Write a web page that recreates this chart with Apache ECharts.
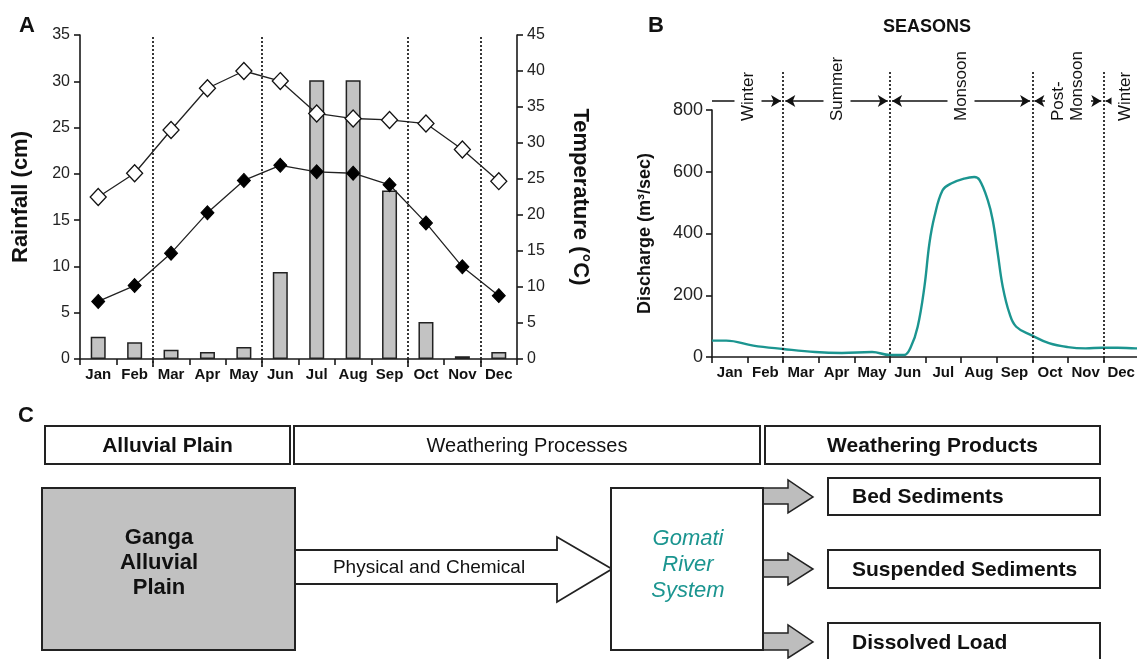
<!DOCTYPE html>
<html><head><meta charset="utf-8">
<script src="https://cdn.jsdelivr.net/npm/echarts@6/dist/echarts.min.js"></script>
<style>html,body{margin:0;padding:0;background:#fff}#c{width:1137px;height:659px}</style>
</head><body><div id="c"></div>
<script>
// ---------- data ----------
const months = ['Jan','Feb','Mar','Apr','May','Jun','Jul','Aug','Sep','Oct','Nov','Dec'];
const rainfall = [2.4, 1.8, 1.0, 0.75, 1.3, 9.4, 30.1, 30.1, 18.2, 4.0, 0.3, 0.75];
const tempMax = [22.5, 25.8, 31.8, 37.6, 40.0, 38.6, 34.1, 33.4, 33.2, 32.7, 29.1, 24.7];
const tempMin = [8.0, 10.2, 14.7, 20.3, 24.8, 26.9, 26.0, 25.8, 24.2, 18.9, 12.8, 8.8];
const seasonBoundaries = [2, 5, 9, 11];
const dischargeMonth = [0, 0.4, 1.16, 2.0, 2.9, 3.65, 4.5, 5.0, 5.4, 5.59, 5.78, 5.97, 6.11, 6.25, 6.48, 6.72, 7.09, 7.37, 7.52, 7.75, 7.89, 8.03, 8.17, 8.36, 8.55, 8.97, 9.47, 10.0, 10.5, 10.97, 11.4, 11.9, 12];
const dischargeValue = [53, 53, 37, 26, 16, 13, 16, 6.5, 6.5, 33, 98, 228, 368, 454, 540, 562, 578, 583, 573, 508, 443, 336, 228, 141, 98, 71, 45, 32, 28, 30, 30, 28, 28];
const seasonNames = ['Winter', 'Summer', 'Monsoon', 'Post-\nMonsoon', 'Winter'];
const seasonFrom = [0, 2, 5, 9, 11];
const seasonTo = [2, 5, 9, 11, 12];
const rainTicks = {min: 0, max: 35, interval: 5};
const tempTicks = {min: 0, max: 45, interval: 5};
const dischargeTicks = {min: 0, max: 800, interval: 200};
const flowHeaders = ['Alluvial Plain', 'Weathering Processes', 'Weathering Products'];
const sourceLabel = 'Ganga\nAlluvial\nPlain';
const processLabel = 'Physical and Chemical';
const systemLabel = 'Gomati\nRiver\nSystem';
const productLabels = ['Bed Sediments', 'Suspended Sediments', 'Dissolved Load'];

// ---------- styles ----------
const FONT = "'Liberation Sans', Arial, Helvetica, sans-serif";
const INK = '#1a1a1a';
const TEAL = '#1b9590';

const chart = echarts.init(document.getElementById('c'), null, {renderer: 'canvas'});

function axisBase(extra) {
  return Object.assign({
    axisLine: {show: true, lineStyle: {color: INK, width: 1.6}},
    axisTick: {show: true, length: 6, lineStyle: {color: INK, width: 1.6}},
    splitLine: {show: false}
  }, extra);
}
const hiddenX = (gi) => ({type: 'value', gridIndex: gi, min: 0, max: 12, show: false});

// ---------- panel C diagram ----------
const g = [];
function txt(x, y, text, o) {
  g.push({type: 'text', x: x, y: y, z: 10, style: Object.assign({
    text: text, fontFamily: FONT, fontSize: 20, fill: '#111', align: 'center', verticalAlign: 'middle'
  }, o || {})});
}
function rect(x, y, w, h, fill) {
  g.push({type: 'rect', z: 5, shape: {x: x, y: y, width: w, height: h},
    style: {fill: fill, stroke: '#222', lineWidth: 2}});
}
function poly(pts, fill, lw) {
  g.push({type: 'polygon', z: 4, shape: {points: pts}, style: {fill: fill, stroke: '#222', lineWidth: lw}});
}
// panel letters and title
txt(19, 26, 'A', {fontSize: 22, fontWeight: 'bold', align: 'left'});
txt(648, 26, 'B', {fontSize: 22, fontWeight: 'bold', align: 'left'});
txt(18, 416, 'C', {fontSize: 22, fontWeight: 'bold', align: 'left'});
txt(927, 27, 'SEASONS', {fontSize: 18, fontWeight: 'bold'});
// header boxes
const headerBoxes = [[45, 426, 245, 38], [294, 426, 466, 38], [765, 426, 335, 38]];
headerBoxes.forEach((b, i) => {
  rect(b[0], b[1], b[2], b[3], '#fff');
  txt(b[0] + b[2] / 2, b[1] + b[3] / 2 + 1, flowHeaders[i], {fontSize: i === 1 ? 20 : 21, fontWeight: i === 1 ? 'normal' : 'bold'});
});
// source box
rect(42, 488, 253, 162, '#c1c1c1');
txt(159, 563, sourceLabel, {fontSize: 22, fontWeight: 'bold', lineHeight: 25});
// hollow process arrow
poly([[294, 550], [557, 550], [557, 537], [612, 569], [557, 602], [557, 584], [294, 584]], '#fff', 1.8);
txt(429, 568, processLabel, {fontSize: 19});
// product arrows
const prodArrows = [[488, 504, 480, 513, 497], [560, 577, 553, 585, 569], [633, 650, 625, 658, 642]];
prodArrows.forEach(a => {
  poly([[763, a[0]], [788, a[0]], [788, a[2]], [813, a[4]], [788, a[3]], [788, a[1]], [763, a[1]]], '#bdbdbd', 1.5);
});
// system box
rect(611, 488, 152, 162, '#fff');
txt(688, 565, systemLabel, {fontSize: 22, fontStyle: 'italic', fill: TEAL, lineHeight: 26});
// product boxes
const prodBoxes = [[828, 478, 272, 37], [828, 550, 272, 38], [828, 623, 272, 38]];
prodBoxes.forEach((b, i) => {
  rect(b[0], b[1], b[2], b[3], '#fff');
  txt(852, b[1] + b[3] / 2 + 1, productLabels[i], {fontSize: 21, fontWeight: 'bold', align: 'left'});
});

// ---------- chart option ----------
const option = {
  animation: false,
  backgroundColor: '#fff',
  textStyle: {fontFamily: FONT},
  grid: [
    {left: 80, right: 620, top: 35, bottom: 300, containLabel: false, outerBoundsMode: 'none'},
    {left: 80, right: 620, top: 35, bottom: 292, containLabel: false, outerBoundsMode: 'none'},
    {left: 712, width: 427, top: 110, bottom: 302, containLabel: false, outerBoundsMode: 'none'},
    {left: 712, width: 427, top: 72, bottom: 297, containLabel: false, outerBoundsMode: 'none'}
  ],
  xAxis: [
    axisBase({type: 'category', gridIndex: 0, data: months, boundaryGap: true,
      axisLabel: {interval: 0, fontSize: 15, fontWeight: 'bold', color: '#111', margin: 8, fontFamily: FONT}}),
    hiddenX(1),
    axisBase({type: 'category', gridIndex: 2, data: months, boundaryGap: true,
      axisLabel: {interval: 0, fontSize: 15, fontWeight: 'bold', color: '#111', margin: 8, fontFamily: FONT}}),
    hiddenX(2),
    hiddenX(3)
  ],
  yAxis: [
    axisBase({type: 'value', gridIndex: 0, position: 'left', min: rainTicks.min, max: rainTicks.max, interval: rainTicks.interval,
      name: 'Rainfall (cm)', nameLocation: 'middle', nameGap: 48,
      nameTextStyle: {fontSize: 22, fontWeight: 'bold', color: '#111', fontFamily: FONT},
      axisLabel: {fontSize: 16, color: '#222', margin: 10, fontFamily: FONT}}),
    axisBase({type: 'value', gridIndex: 0, position: 'right', min: tempTicks.min, max: tempTicks.max, interval: tempTicks.interval,
      name: 'Temperature (°C)', nameLocation: 'middle', nameGap: 52, nameRotate: -90,
      nameTextStyle: {fontSize: 22, fontWeight: 'bold', color: '#111', fontFamily: FONT},
      axisLabel: {fontSize: 16, color: '#222', margin: 10, fontFamily: FONT}}),
    {type: 'value', gridIndex: 1, min: 0, max: 1, show: false},
    axisBase({type: 'value', gridIndex: 2, position: 'left', min: dischargeTicks.min, max: dischargeTicks.max, interval: dischargeTicks.interval,
      name: 'Discharge (m³/sec)', nameLocation: 'middle', nameGap: 58,
      nameTextStyle: {fontSize: 18, fontWeight: 'bold', color: '#111', fontFamily: FONT},
      axisLabel: {fontSize: 18, color: '#222', margin: 9, fontFamily: FONT}}),
    {type: 'value', gridIndex: 3, min: 0, max: 100, show: false}
  ],
  series: [
    {type: 'line', xAxisIndex: 1, yAxisIndex: 2, data: [], silent: true, z: 1,
      markLine: {silent: true, symbol: 'none', label: {show: false}, animation: false,
        lineStyle: {type: [2, 2], color: '#222', width: 1.8},
        data: seasonBoundaries.map(v => ({xAxis: v}))}},
    {type: 'bar', xAxisIndex: 0, yAxisIndex: 0, data: rainfall, barWidth: 15, z: 2,
      itemStyle: {color: '#c3c3c3', borderColor: '#222', borderWidth: 1.5}},
    {type: 'line', xAxisIndex: 0, yAxisIndex: 1, data: tempMax, z: 4,
      symbol: 'diamond', symbolSize: [16, 17], showAllSymbol: true,
      lineStyle: {color: '#222', width: 1.3},
      itemStyle: {color: '#fff', borderColor: '#111', borderWidth: 1.3}},
    {type: 'line', xAxisIndex: 0, yAxisIndex: 1, data: tempMin, z: 4,
      symbol: 'diamond', symbolSize: [13, 14], showAllSymbol: true,
      lineStyle: {color: '#222', width: 1.3},
      itemStyle: {color: '#000', borderColor: '#000', borderWidth: 1}},
    {type: 'line', xAxisIndex: 4, yAxisIndex: 4, data: [], silent: true, z: 1,
      markLine: {silent: true, symbol: 'none', label: {show: false}, animation: false,
        lineStyle: {type: [2, 2], color: '#222', width: 1.8},
        data: seasonBoundaries.map(v => ({xAxis: v}))}},
    {type: 'line', xAxisIndex: 3, yAxisIndex: 3, z: 3,
      data: dischargeMonth.map((m, i) => [m, dischargeValue[i]]),
      symbol: 'none', smooth: 0.4, clip: false,
      lineStyle: {color: TEAL, width: 2.4}},
    {type: 'scatter', xAxisIndex: 4, yAxisIndex: 4, z: 2, silent: true, data: [],
      markLine: {silent: true, animation: false, label: {show: false}, symbolSize: [9, 10],
        lineStyle: {type: 'solid', color: '#111', width: 1.6},
        data: seasonNames.map((n, i) => [
          {coord: [seasonFrom[i] + (i === 0 ? 0 : 0.06), 90], symbol: i === 0 ? 'none' : 'arrow'},
          {coord: [seasonTo[i] - (i === 4 ? 0 : 0.06), 90], symbol: i === 4 ? 'none' : 'arrow'}
        ])}}
  ],
  graphic: g
};
chart.setOption(option);

// season names: rotated text placed through the hidden season axis
const seasonText = seasonNames.map((n, i) => {
  const cx = i === 4 ? 11.6 : (seasonFrom[i] + seasonTo[i]) / 2;
  const p = chart.convertToPixel({xAxisIndex: 4, yAxisIndex: 4}, [cx, 82.4]);
  return {type: 'text', x: Math.round(p[0]), y: Math.round(p[1]), rotation: Math.PI / 2, z: 20,
    style: {text: n, fontFamily: FONT, fontSize: 17, lineHeight: 19, fill: '#111',
      align: 'left', verticalAlign: 'middle', backgroundColor: '#fff', padding: [4, 2]}};
});
chart.setOption({graphic: g.concat(seasonText)});
</script>
</body></html>
